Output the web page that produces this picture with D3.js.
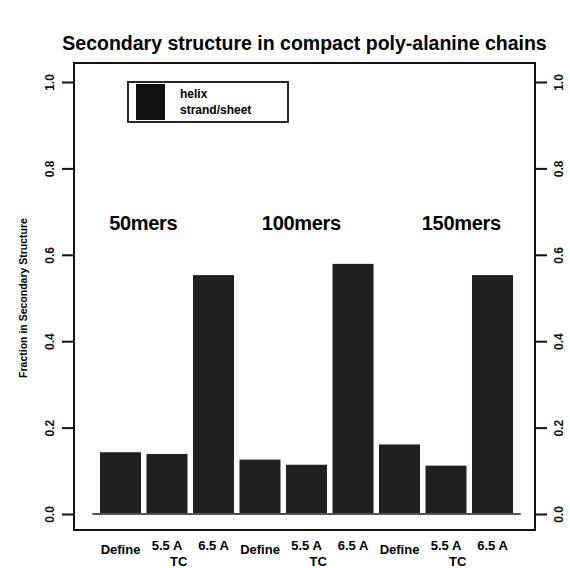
<!DOCTYPE html>
<html>
<head>
<meta charset="utf-8">
<script src="https://cdn.jsdelivr.net/npm/d3@7"></script>
<style>
  body { margin: 0; background: #fff; }
  svg { display: block; font-family: "Liberation Sans", Arial, sans-serif; }
</style>
</head>
<body>
<svg width="570" height="568"></svg>
<script>
// data
var categories = ["50-Define", "50-5.5", "50-6.5", "100-Define", "100-5.5", "100-6.5", "150-Define", "150-5.5", "150-6.5"];
var barLabels = ["Define", "5.5 A", "6.5 A", "Define", "5.5 A", "6.5 A", "Define", "5.5 A", "6.5 A"];
var fractions = [0.143, 0.139, 0.553, 0.126, 0.114, 0.579, 0.161, 0.112, 0.553];
var groupLabels = ["50mers", "100mers", "150mers"];
var groupPos = [0.49, 3.89, 7.33];   // in bar-index units
var groupLevel = 0.657;
var tcPos = [1.25, 4.25, 7.25];      // "TC" sits under the two TC bars
var yTicks = [0, 0.2, 0.4, 0.6, 0.8, 1.0];
var legendItems = ["helix", "strand/sheet"];

var svg = d3.select("svg"),
    box = {left: 74, right: 535, top: 63, bottom: 530};

var y = d3.scaleLinear().domain([0, 1]).range([514, 82]);
var x = d3.scaleBand().domain(categories).range([97.25, 515.75]).paddingInner(0.118).paddingOuter(0.059);
var idx = d3.scaleLinear().domain([0, 8]).range([x(categories[0]) + x.bandwidth() / 2, x(categories[8]) + x.bandwidth() / 2]);

// title
svg.append("text")
    .attr("x", (box.left + box.right) / 2)
    .attr("y", 50)
    .attr("text-anchor", "middle")
    .style("font-size", "19.5px")
    .style("font-weight", "bold")
    .text("Secondary structure in compact poly-alanine chains");

// plot box
svg.append("rect")
    .attr("x", box.left).attr("y", box.top)
    .attr("width", box.right - box.left).attr("height", box.bottom - box.top)
    .attr("fill", "none").attr("stroke", "#111").attr("stroke-width", 2);

// bars
svg.selectAll("rect.bar")
    .data(fractions)
    .enter().append("rect")
    .attr("class", "bar")
    .attr("x", function(d, i) { return x(categories[i]); })
    .attr("y", function(d) { return y(d); })
    .attr("width", x.bandwidth())
    .attr("height", function(d) { return y(0) - y(d); })
    .attr("fill", "#202020");

// baseline
svg.append("line")
    .attr("x1", x.range()[0] - 5).attr("x2", x.range()[1] + 5)
    .attr("y1", y(0)).attr("y2", y(0))
    .attr("stroke", "#555").attr("stroke-width", 2);

// left and right axes
var axL = svg.append("g").attr("transform", "translate(" + box.left + ",0)")
    .call(d3.axisLeft(y).tickValues(yTicks).tickSize(12).tickFormat(d3.format(".1f")));
var axR = svg.append("g").attr("transform", "translate(" + box.right + ",0)")
    .call(d3.axisRight(y).tickValues(yTicks).tickSize(12).tickFormat(d3.format(".1f")));
[axL, axR].forEach(function(a) {
  a.select(".domain").remove();
  a.selectAll("line").attr("stroke", "#111").attr("stroke-width", 2);
  a.selectAll("text").style("font-size", "12px").style("font-weight", "bold").attr("fill", "#111");
});
axL.selectAll(".tick text")
    .attr("x", null).attr("dy", null)
    .attr("text-anchor", "middle")
    .attr("transform", "translate(-24,0) rotate(-90)")
    .attr("dy", "0.35em");
axR.selectAll(".tick text")
    .attr("x", null).attr("dy", null)
    .attr("text-anchor", "middle")
    .attr("transform", "translate(24,0) rotate(-90)")
    .attr("dy", "0.35em");

// y axis title
svg.append("text")
    .attr("transform", "translate(27," + y(0.5) + ") rotate(-90)")
    .attr("text-anchor", "middle")
    .style("font-size", "10.5px")
    .style("font-weight", "bold")
    .text("Fraction in Secondary Structure");

// group labels
svg.selectAll("text.grp")
    .data(groupLabels)
    .enter().append("text")
    .attr("class", "grp")
    .attr("x", function(d, i) { return idx(groupPos[i]); })
    .attr("y", y(groupLevel))
    .attr("text-anchor", "middle")
    .style("font-size", "20px")
    .style("font-weight", "bold")
    .style("letter-spacing", "-0.3px")
    .text(function(d) { return d; });

// bar labels
svg.selectAll("text.blab")
    .data(barLabels)
    .enter().append("text")
    .attr("class", "blab")
    .attr("x", function(d, i) { return x(categories[i]) + x.bandwidth() / 2; })
    .attr("y", function(d) { return d == "Define" ? 554 : 550; })
    .attr("text-anchor", "middle")
    .style("font-size", "13px")
    .style("font-weight", "bold")
    .text(function(d) { return d; });

// "TC" under the two TC bars of each group
svg.selectAll("text.tc")
    .data(tcPos)
    .enter().append("text")
    .attr("class", "tc")
    .attr("x", function(d) { return idx(d); })
    .attr("y", 566)
    .attr("text-anchor", "middle")
    .style("font-size", "13px")
    .style("font-weight", "bold")
    .text("TC");

// legend
var lg = svg.append("g").attr("transform", "translate(128,82)");
lg.append("rect").attr("width", 160).attr("height", 40)
    .attr("fill", "#fff").attr("stroke", "#111").attr("stroke-width", 1.8);
lg.append("rect").attr("x", 8).attr("y", 2).attr("width", 29).attr("height", 36).attr("fill", "#111");
lg.selectAll("text.lt")
    .data(legendItems)
    .enter().append("text")
    .attr("class", "lt")
    .attr("x", 52)
    .attr("y", function(d, i) { return 16 + i * 16; })
    .style("font-size", "12px")
    .style("font-weight", "bold")
    .text(function(d) { return d; });
</script>
</body>
</html>
